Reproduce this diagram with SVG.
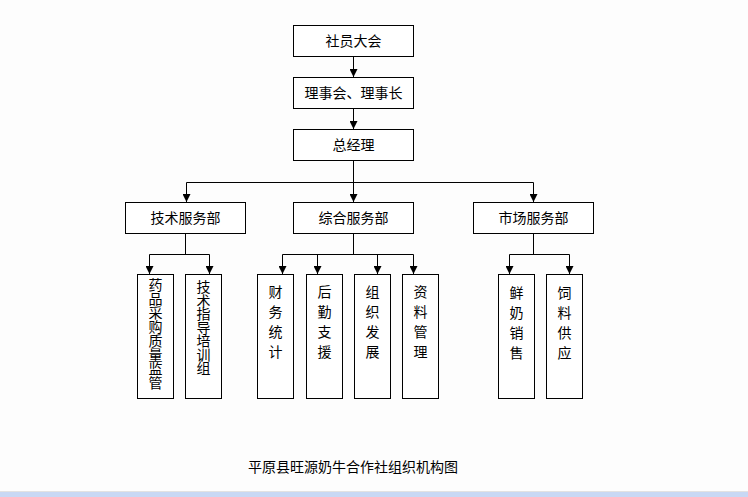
<svg xmlns="http://www.w3.org/2000/svg" width="748" height="497" viewBox="0 0 748 497">
<style>
.box{fill:#fff;stroke:#000;stroke-width:1}
.t{font-family:"Noto Sans CJK SC","Noto Sans CJK JP",sans-serif;font-size:14px;fill:#000;text-anchor:middle}
.v{font-family:"Noto Sans CJK SC","Noto Sans CJK JP",sans-serif;font-size:14px;fill:#000;writing-mode:vertical-rl;text-anchor:start}
.v4{letter-spacing:6px}
.c{fill:none;stroke:#000;stroke-width:1}
.a{marker-end:url(#ah)}
</style>
<defs>
<marker id="ah" viewBox="0 0 8 8" refX="8" refY="4" markerWidth="8" markerHeight="8" markerUnits="userSpaceOnUse" orient="auto">
<path d="M0,0 L8,4 L0,8 z" fill="#000"/>
</marker>
</defs>
<rect x="0" y="0" width="748" height="497" fill="#fdfdfd"/>

<g id="connectors">
<path class="c a" d="M353.5,56 V77"/>
<path class="c a" d="M353.5,108 V129"/>
<path class="c" d="M353.5,160 V182.5"/>
<path class="c" d="M186.5,182.5 H533.5"/>
<path class="c a" d="M186.5,182.5 V202"/>
<path class="c a" d="M353.5,182.5 V202"/>
<path class="c a" d="M533.5,182.5 V202"/>
<path class="c" d="M185.5,233 V254.5"/>
<path class="c" d="M149.5,254.5 H209.5"/>
<path class="c a" d="M149.5,254.5 V274"/>
<path class="c a" d="M209.5,254.5 V274"/>
<path class="c" d="M353.5,233 V254.5"/>
<path class="c" d="M282.5,254.5 H413.5"/>
<path class="c a" d="M282.5,254.5 V274"/>
<path class="c a" d="M317.5,254.5 V274"/>
<path class="c a" d="M377.5,254.5 V274"/>
<path class="c a" d="M413.5,254.5 V274"/>
<path class="c" d="M533.5,233 V254.5"/>
<path class="c" d="M509.5,254.5 H569.5"/>
<path class="c a" d="M509.5,254.5 V274"/>
<path class="c a" d="M569.5,254.5 V274"/>
</g>

<g id="n1"><rect class="box" x="293.5" y="25.5" width="120" height="31"/><text class="t" x="353.5" y="46">社员大会</text></g>
<g id="n2"><rect class="box" x="293.5" y="77.5" width="120" height="31"/><text class="t" x="353.5" y="98">理事会、理事长</text></g>
<g id="n3"><rect class="box" x="293.5" y="129.5" width="120" height="31"/><text class="t" x="353.5" y="150">总经理</text></g>

<g id="n4"><rect class="box" x="125.5" y="202.5" width="120" height="31"/><text class="t" x="185.5" y="223">技术服务部</text></g>
<g id="n5"><rect class="box" x="293.5" y="202.5" width="120" height="31"/><text class="t" x="353.5" y="223">综合服务部</text></g>
<g id="n6"><rect class="box" x="473.5" y="202.5" width="120" height="31"/><text class="t" x="533.5" y="223">市场服务部</text></g>

<g id="n7"><rect class="box" x="137.5" y="274.5" width="36" height="124"/>
<text class="v" x="155.5" y="278">药品采购质量监管</text></g>
<g id="n8"><rect class="box" x="185.5" y="274.5" width="36" height="124"/>
<text class="v" x="203.5" y="280" style="letter-spacing:-0.5px">技术指导培训组</text></g>

<g id="n9"><rect class="box" x="257.5" y="274.5" width="36" height="124"/>
<text class="v v4" x="275.5" y="285">财务统计</text></g>
<g id="n10"><rect class="box" x="306.5" y="274.5" width="36" height="124"/>
<text class="v v4" x="324.5" y="285">后勤支援</text></g>
<g id="n11"><rect class="box" x="354.5" y="274.5" width="36" height="124"/>
<text class="v v4" x="372.5" y="285">组织发展</text></g>
<g id="n12"><rect class="box" x="402.5" y="274.5" width="36" height="124"/>
<text class="v v4" x="420.5" y="285">资料管理</text></g>

<g id="n13"><rect class="box" x="498.5" y="274.5" width="36" height="124"/>
<text class="v v4" x="516.5" y="286">鲜奶销售</text></g>
<g id="n14"><rect class="box" x="546.5" y="274.5" width="36" height="124"/>
<text class="v v4" x="564.5" y="286">饲料供应</text></g>

<g id="caption"><text class="t" x="353" y="472">平原县旺源奶牛合作社组织机构图</text></g>

<rect x="0" y="491" width="748" height="1" fill="#e2e2e2"/>
<rect x="0" y="492" width="748" height="5" fill="#c8d8f4"/>
</svg>
